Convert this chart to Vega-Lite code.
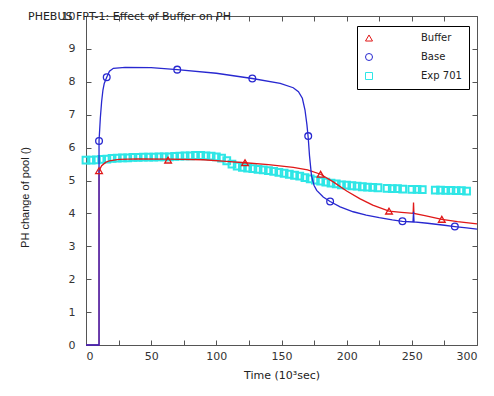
{
  "$schema": "https://vega.github.io/schema/vega-lite/v6.json",
  "width": 391,
  "height": 329,
  "autosize": "none",
  "padding": {"left": 86, "top": 16, "right": 17, "bottom": 51},
  "title": {"text": "PHEBUS FPT-1: Effect of Buffer on PH", "anchor": "start", "dx": 9, "dy": 12, "offset": 0, "fontSize": 11, "font": "DejaVu Sans", "fontWeight": "normal", "color": "#222"},
  "config": {
    "view": {"stroke": "#555", "strokeWidth": 1},
    "axis": {"grid": false, "domain": false, "offset": -5, "tickSize": 5, "tickColor": "#555", "labelFont": "DejaVu Sans", "labelFontSize": 11, "labelColor": "#333", "titleFont": "Liberation Sans", "titleFontSize": 11, "titleFontWeight": "normal", "titleColor": "#222"}
  },
  "datasets": {
    "exp": [
      {"series": "Exp 701", "x": 0, "y": 5.62}, {"series": "Exp 701", "x": 4, "y": 5.62}, {"series": "Exp 701", "x": 8, "y": 5.63}, {"series": "Exp 701", "x": 12, "y": 5.64}, {"series": "Exp 701", "x": 16, "y": 5.65}, {"series": "Exp 701", "x": 20, "y": 5.67}, {"series": "Exp 701", "x": 24, "y": 5.68}, {"series": "Exp 701", "x": 28, "y": 5.69}, {"series": "Exp 701", "x": 32, "y": 5.69}, {"series": "Exp 701", "x": 36, "y": 5.70}, {"series": "Exp 701", "x": 40, "y": 5.70}, {"series": "Exp 701", "x": 44, "y": 5.71}, {"series": "Exp 701", "x": 48, "y": 5.71}, {"series": "Exp 701", "x": 52, "y": 5.71}, {"series": "Exp 701", "x": 56, "y": 5.72}, {"series": "Exp 701", "x": 60, "y": 5.72}, {"series": "Exp 701", "x": 64, "y": 5.72}, {"series": "Exp 701", "x": 68, "y": 5.73}, {"series": "Exp 701", "x": 72, "y": 5.74}, {"series": "Exp 701", "x": 76, "y": 5.75}, {"series": "Exp 701", "x": 80, "y": 5.75}, {"series": "Exp 701", "x": 84, "y": 5.76}, {"series": "Exp 701", "x": 88, "y": 5.76}, {"series": "Exp 701", "x": 92, "y": 5.75}, {"series": "Exp 701", "x": 96, "y": 5.74}, {"series": "Exp 701", "x": 100, "y": 5.72}, {"series": "Exp 701", "x": 104, "y": 5.68}, {"series": "Exp 701", "x": 108, "y": 5.60}, {"series": "Exp 701", "x": 112, "y": 5.50}, {"series": "Exp 701", "x": 116, "y": 5.44}, {"series": "Exp 701", "x": 120, "y": 5.40}, {"series": "Exp 701", "x": 124, "y": 5.38}, {"series": "Exp 701", "x": 128, "y": 5.36}, {"series": "Exp 701", "x": 132, "y": 5.34}, {"series": "Exp 701", "x": 136, "y": 5.32}, {"series": "Exp 701", "x": 140, "y": 5.30}, {"series": "Exp 701", "x": 144, "y": 5.28}, {"series": "Exp 701", "x": 148, "y": 5.25}, {"series": "Exp 701", "x": 152, "y": 5.22}, {"series": "Exp 701", "x": 156, "y": 5.19}, {"series": "Exp 701", "x": 160, "y": 5.16}, {"series": "Exp 701", "x": 164, "y": 5.13}, {"series": "Exp 701", "x": 168, "y": 5.09}, {"series": "Exp 701", "x": 172, "y": 5.05}, {"series": "Exp 701", "x": 176, "y": 5.01}, {"series": "Exp 701", "x": 180, "y": 4.98}, {"series": "Exp 701", "x": 184, "y": 4.95}, {"series": "Exp 701", "x": 188, "y": 4.92}, {"series": "Exp 701", "x": 192, "y": 4.90}, {"series": "Exp 701", "x": 196, "y": 4.87}, {"series": "Exp 701", "x": 200, "y": 4.86}, {"series": "Exp 701", "x": 204, "y": 4.84}, {"series": "Exp 701", "x": 208, "y": 4.83}, {"series": "Exp 701", "x": 212, "y": 4.81}, {"series": "Exp 701", "x": 216, "y": 4.80}, {"series": "Exp 701", "x": 220, "y": 4.79}, {"series": "Exp 701", "x": 224, "y": 4.78}, {"series": "Exp 701", "x": 231, "y": 4.76}, {"series": "Exp 701", "x": 235, "y": 4.75}, {"series": "Exp 701", "x": 239, "y": 4.75}, {"series": "Exp 701", "x": 243, "y": 4.74}, {"series": "Exp 701", "x": 250, "y": 4.73}, {"series": "Exp 701", "x": 254, "y": 4.73}, {"series": "Exp 701", "x": 258, "y": 4.72}, {"series": "Exp 701", "x": 268, "y": 4.71}, {"series": "Exp 701", "x": 272, "y": 4.71}, {"series": "Exp 701", "x": 276, "y": 4.70}, {"series": "Exp 701", "x": 280, "y": 4.70}, {"series": "Exp 701", "x": 284, "y": 4.69}, {"series": "Exp 701", "x": 288, "y": 4.69}, {"series": "Exp 701", "x": 292, "y": 4.68}
    ],
    "lines": [
      {"series": "Buffer", "i": 1, "x": 0, "y": 0}, {"series": "Buffer", "i": 2, "x": 10, "y": 0}, {"series": "Buffer", "i": 3, "x": 10, "y": 5.3}, {"series": "Buffer", "i": 4, "x": 12, "y": 5.45}, {"series": "Buffer", "i": 5, "x": 15, "y": 5.55}, {"series": "Buffer", "i": 6, "x": 18, "y": 5.6}, {"series": "Buffer", "i": 7, "x": 25, "y": 5.64}, {"series": "Buffer", "i": 8, "x": 40, "y": 5.66}, {"series": "Buffer", "i": 9, "x": 63, "y": 5.65}, {"series": "Buffer", "i": 10, "x": 90, "y": 5.63}, {"series": "Buffer", "i": 11, "x": 105, "y": 5.59}, {"series": "Buffer", "i": 12, "x": 122, "y": 5.54}, {"series": "Buffer", "i": 13, "x": 140, "y": 5.48}, {"series": "Buffer", "i": 14, "x": 159, "y": 5.4}, {"series": "Buffer", "i": 15, "x": 170, "y": 5.32}, {"series": "Buffer", "i": 16, "x": 180, "y": 5.19}, {"series": "Buffer", "i": 17, "x": 190, "y": 4.95}, {"series": "Buffer", "i": 18, "x": 200, "y": 4.68}, {"series": "Buffer", "i": 19, "x": 210, "y": 4.45}, {"series": "Buffer", "i": 20, "x": 220, "y": 4.25}, {"series": "Buffer", "i": 21, "x": 232.5, "y": 4.07}, {"series": "Buffer", "i": 22, "x": 242, "y": 4.03}, {"series": "Buffer", "i": 23, "x": 251, "y": 4.0}, {"series": "Buffer", "i": 24, "x": 251.3, "y": 4.33}, {"series": "Buffer", "i": 25, "x": 251.6, "y": 4.0}, {"series": "Buffer", "i": 26, "x": 260, "y": 3.93}, {"series": "Buffer", "i": 27, "x": 273, "y": 3.82}, {"series": "Buffer", "i": 28, "x": 285, "y": 3.75}, {"series": "Buffer", "i": 29, "x": 300, "y": 3.68},
      {"series": "Base", "i": 1, "x": 0, "y": 0}, {"series": "Base", "i": 2, "x": 10, "y": 0}, {"series": "Base", "i": 3, "x": 10, "y": 6.2}, {"series": "Base", "i": 4, "x": 11, "y": 6.9}, {"series": "Base", "i": 5, "x": 12, "y": 7.4}, {"series": "Base", "i": 6, "x": 13, "y": 7.75}, {"series": "Base", "i": 7, "x": 14, "y": 7.95}, {"series": "Base", "i": 8, "x": 15.9, "y": 8.14}, {"series": "Base", "i": 9, "x": 18, "y": 8.32}, {"series": "Base", "i": 10, "x": 21, "y": 8.41}, {"series": "Base", "i": 11, "x": 30, "y": 8.44}, {"series": "Base", "i": 12, "x": 50, "y": 8.43}, {"series": "Base", "i": 13, "x": 70, "y": 8.37}, {"series": "Base", "i": 14, "x": 100, "y": 8.26}, {"series": "Base", "i": 15, "x": 127.6, "y": 8.1}, {"series": "Base", "i": 16, "x": 149, "y": 7.95}, {"series": "Base", "i": 17, "x": 159, "y": 7.82}, {"series": "Base", "i": 18, "x": 163, "y": 7.7}, {"series": "Base", "i": 19, "x": 166, "y": 7.5}, {"series": "Base", "i": 20, "x": 168, "y": 7.15}, {"series": "Base", "i": 21, "x": 169.5, "y": 6.7}, {"series": "Base", "i": 22, "x": 170.5, "y": 6.3}, {"series": "Base", "i": 23, "x": 171.5, "y": 5.75}, {"series": "Base", "i": 24, "x": 173, "y": 5.15}, {"series": "Base", "i": 25, "x": 175, "y": 4.85}, {"series": "Base", "i": 26, "x": 177, "y": 4.7}, {"series": "Base", "i": 27, "x": 182, "y": 4.5}, {"series": "Base", "i": 28, "x": 187.3, "y": 4.36}, {"series": "Base", "i": 29, "x": 195, "y": 4.2}, {"series": "Base", "i": 30, "x": 205, "y": 4.05}, {"series": "Base", "i": 31, "x": 215, "y": 3.95}, {"series": "Base", "i": 32, "x": 225, "y": 3.87}, {"series": "Base", "i": 33, "x": 235, "y": 3.8}, {"series": "Base", "i": 34, "x": 242.8, "y": 3.76}, {"series": "Base", "i": 35, "x": 250.9, "y": 3.74}, {"series": "Base", "i": 36, "x": 251.3, "y": 4.05}, {"series": "Base", "i": 37, "x": 251.7, "y": 3.74}, {"series": "Base", "i": 38, "x": 262, "y": 3.7}, {"series": "Base", "i": 39, "x": 275, "y": 3.64}, {"series": "Base", "i": 40, "x": 283, "y": 3.6}, {"series": "Base", "i": 41, "x": 292, "y": 3.56}, {"series": "Base", "i": 42, "x": 300, "y": 3.52}
    ],
    "markers": [
      {"series": "Buffer", "x": 10, "y": 5.3}, {"series": "Buffer", "x": 63, "y": 5.62}, {"series": "Buffer", "x": 122, "y": 5.54}, {"series": "Buffer", "x": 180, "y": 5.19}, {"series": "Buffer", "x": 232.5, "y": 4.07}, {"series": "Buffer", "x": 273, "y": 3.82},
      {"series": "Base", "x": 10, "y": 6.2}, {"series": "Base", "x": 15.9, "y": 8.14}, {"series": "Base", "x": 70, "y": 8.37}, {"series": "Base", "x": 127.6, "y": 8.1}, {"series": "Base", "x": 170.5, "y": 6.35}, {"series": "Base", "x": 187.3, "y": 4.36}, {"series": "Base", "x": 242.8, "y": 3.76}, {"series": "Base", "x": 283, "y": 3.6}
    ]
  },
  "layer": [
    {
      "data": {"name": "exp"},
      "mark": {"type": "point", "filled": false, "size": 46, "strokeWidth": 2, "opacity": 1},
      "encoding": {
        "x": {"field": "x", "type": "quantitative", "scale": {"domain": [0, 300], "nice": false, "zero": false},
          "axis": {"orient": "bottom", "values": [0, 25, 50, 75, 100, 125, 150, 175, 200, 225, 250, 275, 300], "labelExpr": "datum.value % 50 == 0 ? datum.label : ''", "labelPadding": 5, "title": "Time (10³sec)", "titleFont": "DejaVu Sans", "titlePadding": 8}},
        "y": {"field": "y", "type": "quantitative", "scale": {"domain": [0, 10], "nice": false},
          "axis": {"orient": "left", "values": [0, 1, 2, 3, 4, 5, 6, 7, 8, 9, 10], "labelPadding": 11, "title": "PH change of pool ()", "titleX": -61, "titleY": 181}},
        "color": {"field": "series", "type": "nominal",
          "scale": {"domain": ["Buffer", "Base", "Exp 701"], "range": ["#e01818", "#2828d0", "#2ee6e6"]},
          "legend": {"title": null, "orient": "none", "legendX": 271, "legendY": 10, "padding": 7, "strokeColor": "#000", "fillColor": "#fff", "symbolSize": 49, "symbolStrokeWidth": 1, "labelFont": "DejaVu Sans", "labelFontSize": 10, "labelColor": "#222", "labelOffset": 47, "rowPadding": 7,
            "encode": {"symbols": {"update": {"shape": {"signal": "datum.value == 'Buffer' ? 'M-0.86,0H12M5.57,-0.9L6.5,0.7L4.64,0.7Z' : datum.value == 'Base' ? 'M-0.86,0H12M6.57,0A1,1,0,1,1,4.57,0A1,1,0,1,1,6.57,0' : 'M4.77,-0.8H6.37V0.8H4.77Z'"}}}}}},
        "shape": {"field": "series", "type": "nominal", "scale": {"domain": ["Buffer", "Base", "Exp 701"], "range": ["triangle-up", "circle", "square"]}, "legend": null}
      }
    },
    {
      "data": {"name": "lines"},
      "mark": {"type": "line", "strokeWidth": 1.3},
      "encoding": {
        "x": {"field": "x", "type": "quantitative", "axis": null},
        "y": {"field": "y", "type": "quantitative", "axis": null},
        "order": {"field": "i", "type": "quantitative"},
        "detail": {"field": "series", "type": "nominal"},
        "stroke": {"field": "series", "type": "nominal", "scale": {"domain": ["Buffer", "Base"], "range": ["#e01818", "#2828d0"]}, "legend": null}
      }
    },
    {
      "data": {"name": "markers"},
      "mark": {"type": "point", "filled": false, "size": 45, "strokeWidth": 1.3, "opacity": 1},
      "encoding": {
        "x": {"field": "x", "type": "quantitative", "axis": {"orient": "top", "values": [0, 25, 50, 75, 100, 125, 150, 175, 200, 225, 250, 275, 300], "labels": false, "title": null}},
        "y": {"field": "y", "type": "quantitative", "axis": {"orient": "right", "values": [0, 1, 2, 3, 4, 5, 6, 7, 8, 9, 10], "labels": false, "title": null}},
        "color": {"field": "series", "type": "nominal"},
        "shape": {"field": "series", "type": "nominal", "legend": null}
      }
    }
  ],
  "resolve": {"axis": {"x": "independent", "y": "independent"}}
}
